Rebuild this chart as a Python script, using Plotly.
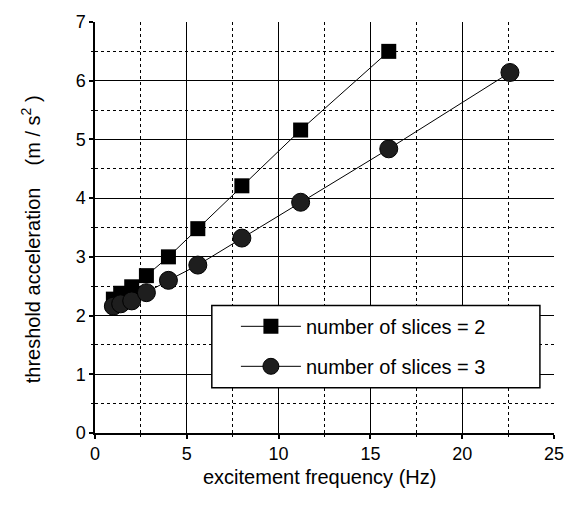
import plotly.graph_objects as go

# Data
freq_two = [1.0, 1.4, 2.0, 2.8, 4.0, 5.6, 8.0, 11.2, 16.0]
acc_two = [2.28, 2.38, 2.49, 2.68, 3.0, 3.48, 4.21, 5.16, 6.5]
freq_three = [1.0, 1.4, 2.0, 2.8, 4.0, 5.6, 8.0, 11.2, 16.0, 22.6]
acc_three = [2.16, 2.2, 2.25, 2.39, 2.6, 2.86, 3.32, 3.93, 4.84, 6.14]
x_ticks = [0, 5, 10, 15, 20, 25]
y_ticks = [0, 1, 2, 3, 4, 5, 6, 7]
names = ["number of slices = 2", "number of slices = 3"]

FONT = "Liberation Sans, Arial, sans-serif"

fig = go.Figure()
fig.add_trace(go.Scatter(
    x=freq_two, y=acc_two, mode="lines+markers", name=names[0],
    legendgroup="a",
    line=dict(color="black", width=1),
    marker=dict(symbol="square", size=15, color="black", line=dict(width=0)),
))
fig.add_trace(go.Scatter(
    x=freq_three, y=acc_three, mode="lines+markers", name=names[1],
    legendgroup="b",
    line=dict(color="black", width=1),
    marker=dict(symbol="circle", size=18, color="#1e1e1e", line=dict(width=1, color="black")),
))

axis_common = dict(
    showline=True, linecolor="black", linewidth=1.5,
    ticks="outside", ticklen=4, tickwidth=1.5, tickcolor="black",
    showgrid=True, gridcolor="black", gridwidth=1,
    zeroline=False,
    tickfont=dict(family=FONT, size=18, color="black"),
    minor=dict(ticks="outside", ticklen=2, tickcolor="black", tickwidth=1,
               showgrid=True, gridcolor="black", gridwidth=1, griddash="dot"),
)

fig.update_xaxes(range=[0, 25], tickvals=x_ticks, **axis_common)
fig.update_xaxes(minor_dtick=2.5)
fig.update_yaxes(range=[0, 7], tickvals=y_ticks, **axis_common)
fig.update_yaxes(minor_dtick=0.5)

fig.update_layout(
    width=576, height=508,
    margin=dict(l=95, r=18.5, t=14, b=75.3),
    paper_bgcolor="white", plot_bgcolor="white",
    font=dict(family=FONT, color="black"),
    showlegend=True,
    legend=dict(
        x=0.307, y=0.307, xanchor="left", yanchor="top",
        bgcolor="rgba(0,0,0,0)", borderwidth=0,
        font=dict(family=FONT, size=20, color="black"),
        traceorder="grouped", tracegroupgap=11,
        itemwidth=60,
    ),
    shapes=[
        dict(type="rect", xref="paper", yref="paper",
             x0=0.2545, x1=0.9693, y0=0.1099, y1=0.3105,
             fillcolor="white", line=dict(color="black", width=1.5), layer="above"),
    ],
    annotations=[
        dict(text="excitement frequency (Hz)", xref="paper", yref="paper",
             x=0.49, y=-0.108, xanchor="center", yanchor="middle", showarrow=False,
             font=dict(family=FONT, size=20, color="black")),
        dict(text="threshold acceleration    (m / s<sup>2</sup> )", xref="paper", yref="paper",
             x=-0.141, y=0.472, xanchor="center", yanchor="middle", showarrow=False,
             textangle=-90, font=dict(family=FONT, size=20, color="black")),
    ],
)

fig.write_html("out.html")
